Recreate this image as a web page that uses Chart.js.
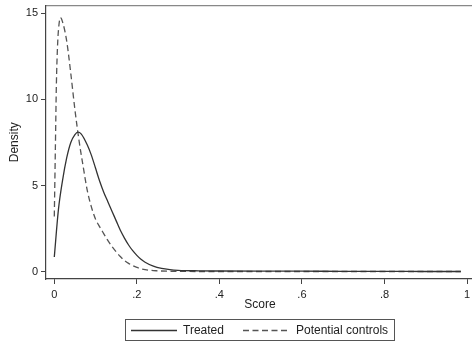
<!DOCTYPE html>
<html lang="en">
  <head>
    <meta charset="utf-8" />
    <script src="https://cdn.jsdelivr.net/npm/chart.js@4.4.1/dist/chart.umd.min.js"></script>
    <style>
      body { margin: 0; overflow: hidden; background: #fff; font-family: "Liberation Sans", Arial, sans-serif; }
      #wrap { position: relative; width: 472px; height: 347px; overflow: hidden; }
      #legend {
        position: absolute; left: 125px; top: 319px; width: 268px; height: 20px;
        border: 1px solid #555; font-size: 12px; color: #222;
      }
      #legend svg { position: absolute; top: 0; }
      #legend span { position: absolute; top: 3px; }
    </style>
  </head>

  <body>
    <div id="wrap">
      <canvas id="Density" width="474" height="347"></canvas>
      <div id="legend">
        <svg style="left:5px" width="46" height="20"><line x1="0" y1="10.5" x2="46" y2="10.5" stroke="#333" stroke-width="1.3"/></svg>
        <span style="left:57px">Treated</span>
        <svg style="left:117px" width="46" height="20"><line x1="0" y1="10.5" x2="46" y2="10.5" stroke="#555" stroke-width="1.3" stroke-dasharray="6,3.5"/></svg>
        <span style="left:170px">Potential controls</span>
      </div>
    </div>

  <script>
      // kernel density
      const treatedScore = [0, 0.01, 0.02, 0.03, 0.04, 0.05, 0.057, 0.065, 0.08, 0.09, 0.1, 0.11, 0.12, 0.13, 0.14, 0.15, 0.16, 0.17, 0.18, 0.19, 0.2, 0.21, 0.22, 0.24, 0.26, 0.28, 0.3, 0.35, 0.4, 0.5, 0.6, 0.7, 0.8, 0.9, 0.985];
      const treatedDensity = [0.85, 3.6, 5.3, 6.6, 7.5, 7.95, 8.1, 8.0, 7.35, 6.75, 6.0, 5.25, 4.6, 4.05, 3.5, 2.95, 2.4, 1.95, 1.55, 1.22, 0.95, 0.72, 0.55, 0.32, 0.19, 0.12, 0.08, 0.05, 0.04, 0.03, 0.03, 0.02, 0.02, 0.01, 0.01];

      const controlScore = [0, 0.0025, 0.005, 0.0075, 0.01, 0.015, 0.02, 0.03, 0.04, 0.05, 0.06, 0.07, 0.08, 0.09, 0.1, 0.11, 0.12, 0.13, 0.14, 0.15, 0.16, 0.17, 0.18, 0.2, 0.22, 0.25, 0.3, 0.4, 0.6, 0.8, 0.985];
      const controlDensity = [3.2, 7.0, 10.8, 12.9, 14.0, 14.75, 14.5, 13.4, 11.5, 9.4, 7.6, 6.1, 4.7, 3.75, 3.05, 2.6, 2.2, 1.8, 1.45, 1.15, 0.88, 0.65, 0.48, 0.25, 0.12, 0.05, 0.02, 0.01, 0.01, 0.01, 0.01];

      const xTicks = [0, 0.2, 0.4, 0.6, 0.8, 1];
      const xTickLabels = ["0", ".2", ".4", ".6", ".8", "1"];
      const yTicks = [0, 5, 10, 15];

      function points(xs, ys) {
        return xs.map((x, i) => ({ x: x, y: ys[i] }));
      }

      const tickFont = { family: "Liberation Sans", size: 11 };
      const titleFont = { family: "Liberation Sans", size: 12 };

      var ctx = document.getElementById("Density");
      var myChart = new Chart(ctx, {
        type: "line",
        data: {
          datasets: [
            {
              label: "Treated",
              data: points(treatedScore, treatedDensity),
              borderColor: "#333",
              borderWidth: 1.3,
              pointRadius: 0,
              cubicInterpolationMode: "monotone",
            },
            {
              label: "Potential controls",
              data: points(controlScore, controlDensity),
              borderColor: "#555",
              borderWidth: 1.3,
              borderDash: [6, 3.5],
              pointRadius: 0,
              cubicInterpolationMode: "monotone",
            },
          ],
        },
        options: {
          responsive: false,
          animation: false,
          layout: { padding: { top: 5.5, right: 0, bottom: 34, left: 0 } },
          plugins: { legend: { display: false }, tooltip: { enabled: false } },
          scales: {
            x: {
              type: "linear",
              min: -0.0201,
              max: 1.0169,
              afterBuildTicks: (s) => { s.ticks = xTicks.map((v) => ({ value: v })); },
              afterFit: (s) => { s.height = 34; s.paddingLeft = 0; s.paddingRight = 0; },
              ticks: {
                font: tickFont,
                color: "#222",
                padding: 4,
                maxRotation: 0,
                callback: (v) => xTickLabels[xTicks.indexOf(v)],
              },
              grid: { drawOnChartArea: false, tickLength: 5, color: "#444" },
              border: { color: "#444", width: 1.2 },
              title: { display: true, text: "Score", font: titleFont, color: "#222", padding: { top: 0, bottom: 0.8 } },
            },
            top: {
              type: "linear",
              position: "top",
              min: 0,
              max: 1,
              afterFit: (s) => { s.height = 0; s.paddingLeft = 0; s.paddingRight = 0; },
              ticks: { display: false },
              grid: { display: false },
              border: { color: "#888", width: 1.2 },
            },
            y: {
              min: -0.424,
              max: 15.45,
              afterBuildTicks: (s) => { s.ticks = yTicks.map((v) => ({ value: v })); },
              afterFit: (s) => { s.width = 46; s.paddingTop = 0; s.paddingBottom = 0; },
              ticks: { font: tickFont, color: "#222", padding: 3 },
              grid: { drawOnChartArea: false, tickLength: 5, color: "#444" },
              border: { color: "#444", width: 1.2 },
              title: { display: true, text: "Density", font: titleFont, color: "#222", padding: { top: 7.3, bottom: 0 } },
            },
          },
        },
      });
    </script>
  </body>
</html>
